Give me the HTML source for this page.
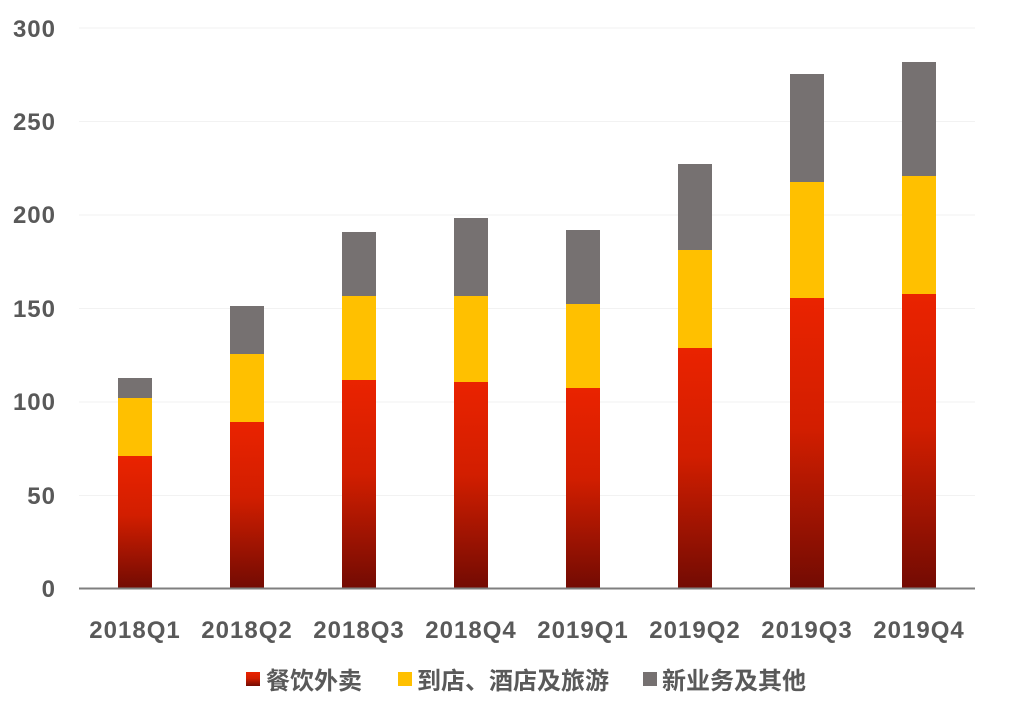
<!DOCTYPE html>
<html><head><meta charset="utf-8"><style>
body{margin:0;background:#fff;}
text{font-family:"Liberation Sans","Noto Sans CJK SC",sans-serif;font-weight:bold;fill:#595959;}
</style></head><body>
<svg width="1024" height="714" xmlns="http://www.w3.org/2000/svg">
<defs>
<linearGradient id="rg" x1="0" y1="0" x2="0" y2="1">
<stop offset="0" stop-color="#ea2300"/><stop offset="0.45" stop-color="#d21e00"/><stop offset="1" stop-color="#730b03"/>
</linearGradient>
</defs>
<g stroke="#f2f2f2" stroke-width="1">
<line x1="79" y1="28" x2="975" y2="28"/><line x1="79" y1="121.5" x2="975" y2="121.5"/>
<line x1="79" y1="215" x2="975" y2="215"/><line x1="79" y1="308.5" x2="975" y2="308.5"/>
<line x1="79" y1="402" x2="975" y2="402"/><line x1="79" y1="495.5" x2="975" y2="495.5"/>
</g>
<g font-size="24" text-anchor="end" letter-spacing="1">
<text x="56" y="597">0</text><text x="56" y="504">50</text><text x="56" y="410">100</text>
<text x="56" y="317">150</text><text x="56" y="223">200</text><text x="56" y="130">250</text><text x="56" y="37">300</text>
</g>
<g id="bars">
<rect x="118" y="456" width="34" height="132" fill="url(#rg)"/><rect x="118" y="398" width="34" height="58" fill="#ffc000"/><rect x="118" y="378" width="34" height="20" fill="#767171"/>
<rect x="230" y="422" width="34" height="166" fill="url(#rg)"/><rect x="230" y="354" width="34" height="68" fill="#ffc000"/><rect x="230" y="306" width="34" height="48" fill="#767171"/>
<rect x="342" y="380" width="34" height="208" fill="url(#rg)"/><rect x="342" y="296" width="34" height="84" fill="#ffc000"/><rect x="342" y="232" width="34" height="64" fill="#767171"/>
<rect x="454" y="382" width="34" height="206" fill="url(#rg)"/><rect x="454" y="296" width="34" height="86" fill="#ffc000"/><rect x="454" y="218" width="34" height="78" fill="#767171"/>
<rect x="566" y="388" width="34" height="200" fill="url(#rg)"/><rect x="566" y="304" width="34" height="84" fill="#ffc000"/><rect x="566" y="230" width="34" height="74" fill="#767171"/>
<rect x="678" y="348" width="34" height="240" fill="url(#rg)"/><rect x="678" y="250" width="34" height="98" fill="#ffc000"/><rect x="678" y="164" width="34" height="86" fill="#767171"/>
<rect x="790" y="298" width="34" height="290" fill="url(#rg)"/><rect x="790" y="182" width="34" height="116" fill="#ffc000"/><rect x="790" y="74" width="34" height="108" fill="#767171"/>
<rect x="902" y="294" width="34" height="294" fill="url(#rg)"/><rect x="902" y="176" width="34" height="118" fill="#ffc000"/><rect x="902" y="62" width="34" height="114" fill="#767171"/>
</g>
<line x1="79" y1="588.5" x2="975" y2="588.5" stroke="#7f7f7f" stroke-width="2"/>
<g font-size="24" text-anchor="middle" letter-spacing="1">
<text x="135" y="638">2018Q1</text><text x="247" y="638">2018Q2</text><text x="359" y="638">2018Q3</text><text x="471" y="638">2018Q4</text>
<text x="583" y="638">2019Q1</text><text x="695" y="638">2019Q2</text><text x="807" y="638">2019Q3</text><text x="919" y="638">2019Q4</text>
</g>
<g font-size="24">
<rect x="246" y="672" width="14" height="14" fill="url(#rg)"/><text x="266" y="689">餐饮外卖</text>
<rect x="398" y="672" width="14" height="14" fill="#ffc000"/><text x="417" y="689">到店、酒店及旅游</text>
<rect x="643" y="672" width="14" height="14" fill="#767171"/><text x="662" y="689">新业务及其他</text>
</g>
</svg>
</body></html>
